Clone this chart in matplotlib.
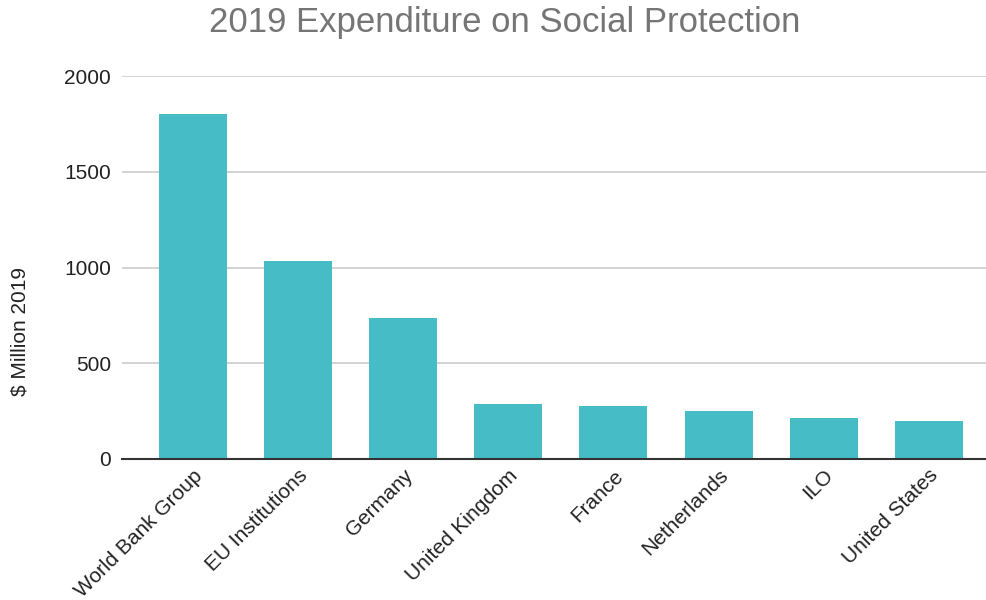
import matplotlib
matplotlib.use("Agg")
import matplotlib.pyplot as plt
from matplotlib.transforms import ScaledTranslation

# Dados
categorias = ["World Bank Group", "EU Institutions", "Germany", "United Kingdom",
              "France", "Netherlands", "ILO", "United States"]
valores = [1800, 1036, 737, 287, 278, 250, 215, 196]
yticks = [0, 500, 1000, 1500, 2000]

plt.rcParams['font.family'] = ['Liberation Sans', 'DejaVu Sans']

fig = plt.figure(figsize=(9.87, 6), dpi=100)
ax = fig.add_axes([0.1236, 0.235, 0.876, 0.638])

x = list(range(len(categorias)))
ax.bar(x, valores, width=0.647, color='#46BDC6', zorder=3)

ax.set_ylim(0, 2000)
ax.set_xlim(-0.675, 7.55)
ax.set_yticks(yticks)
ax.set_yticklabels([str(v) for v in yticks], fontsize=15, color='#222222')
ax.set_xticks(x)
ax.set_xticklabels(categorias, rotation=45, ha='right', rotation_mode='anchor',
                   fontsize=15, color='#222222')
offset = ScaledTranslation(14 / 100, 0, fig.dpi_scale_trans)
for lbl in ax.get_xticklabels():
    lbl.set_transform(lbl.get_transform() + offset)

ax.tick_params(axis='y', length=0, pad=8)
ax.tick_params(axis='x', length=0, pad=5)
ax.grid(axis='y', color='#cccccc', linewidth=1.2, zorder=0)
for s in ['top', 'right', 'left']:
    ax.spines[s].set_visible(False)
ax.spines['bottom'].set_color('#333333')
ax.spines['bottom'].set_linewidth(1.5)
ax.spines['bottom'].set_zorder(4)

fig.text(20 / 987, 1 - 332 / 600, '$ Million 2019', rotation=90, ha='center', va='center',
         fontsize=15, color='#222222')
fig.text(0.511, 0.963, '2019 Expenditure on Social Protection', ha='center', va='center',
         fontsize=25, color='#757575')

fig.savefig('out.png', dpi=100)
